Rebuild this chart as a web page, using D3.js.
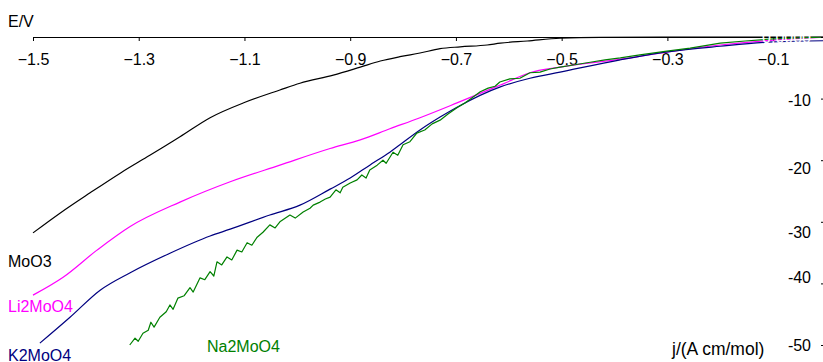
<!DOCTYPE html>
<html>
<head>
<meta charset="utf-8">
<script src="https://cdn.jsdelivr.net/npm/d3@7"></script>
<style>
  body { margin: 0; background: #fff; }
  text { font-family: Arial, "Liberation Sans", sans-serif; }
</style>
</head>
<body>
<svg id="chart"></svg>
<script>
// tick values
var xTicks = [-1.5, -1.3, -1.1, -0.9, -0.7, -0.5, -0.3, -0.1];
var yTicks = [0, -10, -20, -30, -40, -50];

// curves: [E in V, j]
var moo3 = [[-1.5,-31.8],[-1.449,-28.6],[-1.392,-25.3],[-1.335,-22.1],[-1.279,-19.2],[-1.241,-17.2],
  [-1.222,-16.2],[-1.165,-13.1],[-1.099,-10.6],[-1.033,-8.6],[-0.995,-7.5],[-0.932,-6.2],[-0.881,-4.9],
  [-0.843,-3.9],[-0.806,-3.2],[-0.768,-2.6],[-0.730,-1.9],[-0.692,-1.6],[-0.641,-1.3],[-0.616,-1.0],
  [-0.565,-0.65],[-0.503,-0.2],[-0.427,-0.05],[-0.2,-0.02],[0,0]];
var li2moo4 = [[-1.5,-41.9],[-1.443,-39.0],[-1.379,-34.6],[-1.317,-30.8],[-1.222,-26.8],[-1.127,-23.5],
  [-1.033,-20.8],[-0.938,-18.1],[-0.881,-16.7],[-0.825,-14.9],[-0.768,-13.1],[-0.698,-10.7],[-0.616,-7.8],
  [-0.560,-5.8],[-0.503,-4.9],[-0.389,-3.6],[-0.298,-2.4],[-0.2,-1.3],[-0.1,-0.5],[0,0]];
var k2moo4 = [[-1.487,-49.7],[-1.430,-45.5],[-1.373,-41.1],[-1.317,-38.3],[-1.241,-35.1],[-1.165,-32.3],
  [-1.127,-31.2],[-1.052,-28.9],[-0.995,-27.3],[-0.938,-24.7],[-0.900,-22.9],[-0.863,-20.8],[-0.825,-18.7],
  [-0.806,-17.5],[-0.768,-15.1],[-0.730,-13.0],[-0.698,-11.4],[-0.616,-8.1],[-0.560,-6.7],[-0.503,-5.7],
  [-0.389,-3.7],[-0.300,-2.4],[-0.2,-1.5],[-0.1,-0.8],[0,-0.6]];
var na2moo4 = [[-1.317,-50.0],[-1.307,-48.9],[-1.301,-49.4],[-1.292,-48.1],[-1.282,-47.6],[-1.277,-46.3],
  [-1.271,-47.1],[-1.260,-45.5],[-1.248,-44.6],[-1.241,-43.5],[-1.235,-44.2],[-1.226,-42.4],[-1.214,-42.0],
  [-1.203,-40.7],[-1.197,-41.4],[-1.184,-39.1],[-1.175,-39.4],[-1.165,-38.1],[-1.158,-38.8],[-1.152,-36.5],
  [-1.143,-37.0],[-1.133,-35.7],[-1.124,-36.2],[-1.114,-34.6],[-1.105,-34.9],[-1.095,-33.4],[-1.086,-33.8],
  [-1.076,-32.5],[-1.065,-31.7],[-1.052,-30.5],[-1.042,-31.0],[-1.033,-30.0],[-1.014,-28.9],[-1.004,-29.4],
  [-0.989,-28.4],[-0.976,-27.8],[-0.970,-27.3],[-0.957,-26.8],[-0.947,-26.3],[-0.938,-26.0],[-0.927,-24.8],
  [-0.919,-25.3],[-0.914,-24.4],[-0.900,-23.7],[-0.887,-23.2],[-0.878,-22.4],[-0.870,-22.9],[-0.863,-21.6],
  [-0.849,-20.8],[-0.838,-20.0],[-0.832,-20.5],[-0.819,-18.7],[-0.810,-19.2],[-0.800,-17.5],[-0.787,-17.0],
  [-0.774,-15.6],[-0.759,-15.1],[-0.745,-14.1],[-0.730,-13.5],[-0.715,-12.5],[-0.698,-11.5],[-0.683,-10.7],
  [-0.670,-9.9],[-0.654,-8.9],[-0.639,-8.3],[-0.626,-8.0],[-0.617,-7.3],[-0.598,-6.8],[-0.579,-6.7],
  [-0.560,-5.8],[-0.541,-5.7],[-0.522,-5.2],[-0.503,-4.9],[-0.475,-4.5],[-0.446,-4.1],[-0.418,-3.7],
  [-0.389,-3.4],[-0.352,-2.9],[-0.301,-2.3],[-0.257,-1.8],[-0.200,-1.0],[-0.153,-0.65],[-0.100,-0.3],
  [-0.049,-0.15],[0,0]];

var width = 823, height = 362;
var svg = d3.select("#chart").attr("width", width).attr("height", height);

var x = d3.scaleLinear().domain([-1.5, 0]).range([33, 826]);
var y = d3.scaleLinear().domain([0, -50]).range([37, 345]);

var smooth = d3.line()
  .x(function(d) { return x(d[0]); })
  .y(function(d) { return y(d[1]); })
  .curve(d3.curveMonotoneX);
var rough = d3.line()
  .x(function(d) { return x(d[0]); })
  .y(function(d) { return y(d[1]); });

var series = [
  { data: moo3, color: "#000000", line: smooth },
  { data: li2moo4, color: "#ff00ff", line: smooth },
  { data: k2moo4, color: "#000080", line: smooth },
  { data: na2moo4, color: "#008000", line: rough }
];

// horizontal axis along the top
var xAxis = svg.append("g")
  .attr("transform", "translate(0," + y(0) + ")")
  .call(d3.axisBottom(x).tickValues(xTicks).tickSize(4).tickSizeOuter(0).tickPadding(13)
    .tickFormat(function(d) { return d3.format(".1f")(d); }));
xAxis.selectAll("text").attr("font-size", 16).attr("fill", "#000").attr("font-family", "Arial, 'Liberation Sans', sans-serif");
xAxis.select(".domain").attr("stroke", "#000");

svg.selectAll("path.curve")
  .data(series)
  .enter().append("path")
  .attr("class", "curve")
  .attr("fill", "none")
  .attr("stroke", function(d) { return d.color; })
  .attr("stroke-width", 1.2)
  .attr("stroke-linejoin", "round")
  .attr("d", function(d) { return d.line(d.data); });

// vertical axis on the right, labels shifted like the original
var labelShift = [0, 2, 8, 11, -6, 0];
var yAxis = svg.append("g")
  .attr("transform", "translate(821,0)")
  .call(d3.axisRight(y).tickValues(yTicks).tickSize(2)
    .tickFormat(function(d) { return d === 0 ? "0.0000" : d; }));
yAxis.select(".domain").remove();
yAxis.selectAll("text")
  .attr("x", -10)
  .attr("text-anchor", "end")
  .attr("font-size", 16)
  .attr("font-family", "Arial, 'Liberation Sans', sans-serif")
  .attr("fill", function(d) { return d === 0 ? "#fff" : "#000"; })
  .attr("transform", function(d, i) { return "translate(0," + labelShift[i] + ")"; });

svg.append("text").attr("x", 8).attr("y", 27).attr("font-size", 16).text("E/V");
svg.append("text").attr("x", 672).attr("y", 355).attr("font-size", 17.5).text("j/(A cm/mol)");

svg.append("text").attr("x", 8).attr("y", 267).attr("font-size", 16).attr("fill", "#000").text("MoO3");
svg.append("text").attr("x", 8).attr("y", 312).attr("font-size", 16).attr("fill", "#ff00ff").text("Li2MoO4");
svg.append("text").attr("x", 8).attr("y", 361).attr("font-size", 16).attr("fill", "#000080").text("K2MoO4");
svg.append("text").attr("x", 207).attr("y", 352).attr("font-size", 16).attr("fill", "#008000").text("Na2MoO4");
</script>
</body>
</html>
